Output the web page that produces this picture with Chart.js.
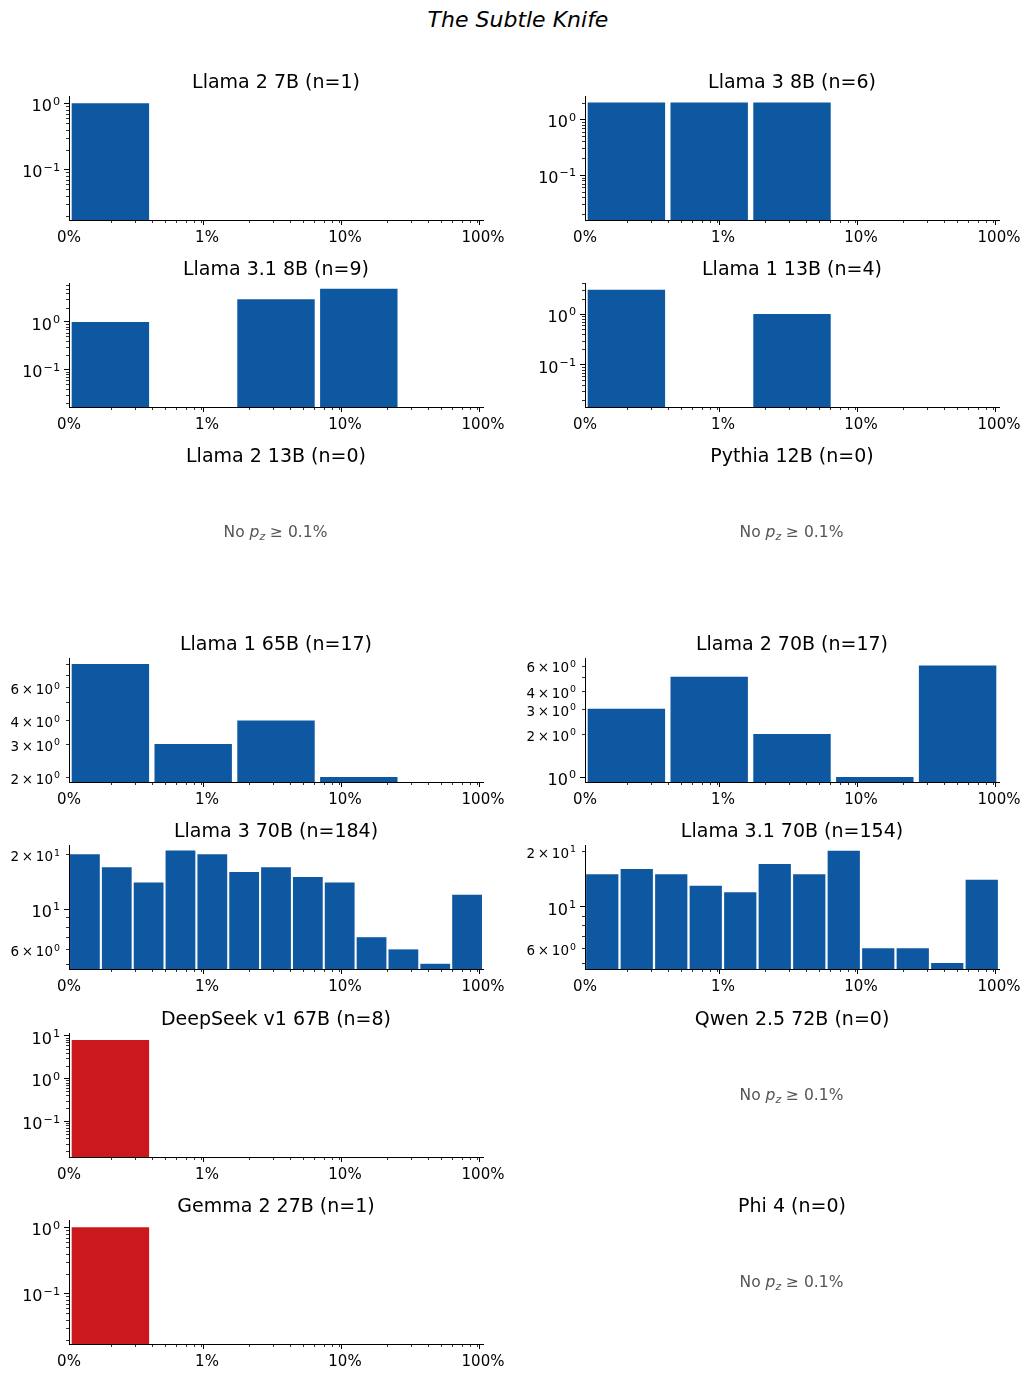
<!DOCTYPE html>
<html>
<head>
<meta charset="utf-8">
<script src="https://cdn.jsdelivr.net/npm/chart.js@4.4.0/dist/chart.umd.min.js"></script>
<style>
  body { margin: 0; background: #fff; }
  #page { position: relative; width: 1032px; height: 1378px; font-family: 'DejaVu Sans', sans-serif; overflow: hidden; }
  #page canvas { position: absolute; }
  #suptitle { position: absolute; left: 0; top: 7px; width: 1036px; text-align: center; font-size: 22px; line-height: 26px; font-style: italic; color: #000; }
  .empty { position: absolute; transform: translate(-50%, -50%); white-space: nowrap; font-size: 15.5px; color: #555; }
  .empty sub { font-size: 70%; font-style: italic; vertical-align: baseline; position: relative; top: 0.25em; }
</style>
</head>
<body>
<div id="page">
  <div id="suptitle">The Subtle Knife</div>
</div>
<script>
// panel names, row by row (2 columns)
const panelNames = ['Llama 2 7B', 'Llama 3 8B', 'Llama 3.1 8B', 'Llama 1 13B', 'Llama 2 13B', 'Pythia 12B',
  'Llama 1 65B', 'Llama 2 70B', 'Llama 3 70B', 'Llama 3.1 70B', 'DeepSeek v1 67B', 'Qwen 2.5 72B',
  'Gemma 2 27B', 'Phi 4'];

// counts per log-spaced bin between 0.1% and 100%
const llama2_7b = [1, 0, 0, 0, 0];
const llama3_8b = [2, 2, 2, 0, 0];
const llama31_8b = [1, 0, 3, 5, 0];
const llama1_13b = [3, 0, 1, 0, 0];
const llama1_65b = [8, 3, 4, 2, 0];
const llama2_70b = [3, 5, 2, 1, 6];
const llama3_70b = [20, 17, 14, 21, 20, 16, 17, 15, 14, 7, 6, 5, 12];
const llama31_70b = [15, 16, 15, 13, 12, 17, 15, 20, 6, 6, 5, 14];
const deepseek_67b = [8, 0, 0, 0, 0];
const gemma2_27b = [1, 0, 0, 0, 0];

const panelCounts = [llama2_7b, llama3_8b, llama31_8b, llama1_13b, null, null,
  llama1_65b, llama2_70b, llama3_70b, llama31_70b, deepseek_67b, null, gemma2_27b, null];

// y axis limits (log scale)
const yMins = [0.0172, 0.0156, 0.0165, 0.0147, null, null, 1.88, 0.923, 4.68, 4.65, 0.0145, null, 0.0172, null];
const yMaxs = [1.29, 2.62, 6.57, 4.09, null, null, 8.6, 6.77, 22.5, 21.5, 11.6, null, 1.29, null];

const redPanels = ['DeepSeek v1 67B', 'Gemma 2 27B'];
const xTickValues = [0.1, 1, 10, 100];
const xTickLabels = ['0%', '1%', '10%', '100%'];

const BLUE = '#0e58a2';
const RED = '#cb181d';
const FONT = "'DejaVu Sans', sans-serif";

Chart.defaults.font.family = FONT;
Chart.defaults.color = '#000';

function logTicks(min, max) {
  const out = [];
  for (let e = Math.floor(Math.log10(min)); e <= Math.ceil(Math.log10(max)); e++) {
    for (let m = 1; m <= 9; m++) {
      const v = m * Math.pow(10, e);
      if (v >= min * 0.9999 && v <= max * 1.0001) out.push({ value: v, major: m === 1, m: m, e: e });
    }
  }
  return out;
}

// short minor tick marks + y labels with real superscripts, like matplotlib
const logDecor = {
  id: 'logDecor',
  afterDraw(chart) {
    const ctx = chart.ctx;
    ctx.save();
    ctx.strokeStyle = '#000';
    ctx.lineWidth = 0.8;
    ctx.beginPath();
    ['xl', 'y'].forEach(id => {
      const s = chart.scales[id];
      if (!s || !s.options.display) return;
      s.ticks.forEach(t => {
        if (t.major) return;
        const p = Math.round(s.getPixelForValue(t.value)) + 0.5;
        if (s.isHorizontal()) { ctx.moveTo(p, s.top); ctx.lineTo(p, s.top + 3); }
        else { ctx.moveTo(s.right - 3, p); ctx.lineTo(s.right, p); }
      });
    });
    ctx.stroke();

    const s = chart.scales.y;
    if (s && s.options.display) {
      const numdec = Math.log10(s.max / s.min);
      ctx.fillStyle = '#000';
      ctx.textAlign = 'left';
      ctx.textBaseline = 'alphabetic';
      s.ticks.forEach(t => {
        let pre, size;
        if (t.major) { pre = '10'; size = 16; }
        else if (numdec <= 1 && [2, 3, 4, 6].includes(t.m)) { pre = t.m + '\u2009×\u200910'; size = 13.5; }
        else return;
        const exp = String(t.e).replace('-', '\u2212');
        const es = size * 0.7;
        ctx.font = size + 'px ' + FONT;
        const wPre = ctx.measureText(pre).width;
        ctx.font = es + 'px ' + FONT;
        const wExp = ctx.measureText(exp).width;
        const y = s.getPixelForValue(t.value);
        const x0 = s.right - 9 - wExp - 1 - wPre;
        const base = y + 0.36 * size + 2;
        ctx.font = size + 'px ' + FONT;
        ctx.fillText(pre, x0, base);
        ctx.font = es + 'px ' + FONT;
        ctx.fillText(exp, x0 + wPre + 1, base - 0.4 * size);
      });
    }
    ctx.restore();
  }
};

const page = document.getElementById('page');

panelNames.forEach((name, i) => {
  const col = i % 2, row = Math.floor(i / 2);
  const counts = panelCounts[i];
  const n = counts ? counts.reduce((a, b) => a + b, 0) : 0;
  const left = col * 516;
  const top = Math.round(55.5 + row * 187.4);

  const canvas = document.createElement('canvas');
  canvas.width = 513;
  canvas.height = 194;
  canvas.style.left = left + 'px';
  canvas.style.top = top + 'px';
  page.appendChild(canvas);

  const title = {
    display: true, text: name + ' (n=' + n + ')', fullSize: false, color: '#000',
    font: { size: 19, weight: 'normal' }, padding: { top: 16, bottom: 1.2 }
  };

  if (!counts) {
    new Chart(canvas, {
      type: 'bar',
      data: { labels: [], datasets: [] },
      options: {
        responsive: false, animation: false,
        layout: { padding: { left: 69, right: 30 } },
        plugins: { legend: { display: false }, tooltip: { enabled: false }, title: title },
        scales: { x: { display: false }, y: { display: false } }
      }
    });
    const msg = document.createElement('div');
    msg.className = 'empty';
    msg.innerHTML = 'No <i>p</i><sub>z</sub> ≥ 0.1%';
    msg.style.left = (left + 69 + 206.5) + 'px';
    msg.style.top = (top + 40 + 62) + 'px';
    page.appendChild(msg);
    return;
  }

  const yTicks = logTicks(yMins[i], yMaxs[i]);
  const xTicks = logTicks(xTickValues[0], xTickValues[xTickValues.length - 1]);

  new Chart(canvas, {
    type: 'bar',
    data: {
      labels: counts.map((c, k) => String(k)),
      datasets: [{
        data: counts,
        backgroundColor: redPanels.includes(name) ? RED : BLUE,
        borderWidth: 0,
        barPercentage: 0.935,
        categoryPercentage: 1,
        xAxisID: 'x',
        yAxisID: 'y'
      }]
    },
    options: {
      responsive: false, animation: false,
      layout: { padding: { right: 30 } },
      plugins: { legend: { display: false }, tooltip: { enabled: false }, title: title },
      scales: {
        x: { type: 'category', display: false, offset: true },
        xl: {
          type: 'logarithmic', position: 'bottom', min: 0.1, max: 100, bounds: 'data',
          afterBuildTicks: s => { s.ticks = xTicks; },
          afterFit: s => { s.height = 30; },
          grid: {
            drawOnChartArea: false, tickLength: 5, tickWidth: 1,
            tickColor: c => (c.tick && c.tick.major ? '#000' : 'rgba(0,0,0,0)')
          },
          border: { color: '#000', width: 1 },
          ticks: {
            autoSkip: false, maxRotation: 0, padding: 4, color: '#000', font: { size: 15 },
            callback: (v, k, ts) => {
              if (!ts[k].major) return '';
              const j = xTickValues.findIndex(x => Math.abs(x - ts[k].value) < 1e-9);
              return j >= 0 ? xTickLabels[j] : '';
            }
          }
        },
        y: {
          type: 'logarithmic', min: yMins[i], max: yMaxs[i], bounds: 'data',
          afterBuildTicks: s => { s.ticks = yTicks; },
          afterFit: s => { s.width = 69; },
          grid: {
            drawOnChartArea: false, tickLength: 5, tickWidth: 1,
            tickColor: c => (c.tick && c.tick.major ? '#000' : 'rgba(0,0,0,0)')
          },
          border: { color: '#000', width: 1 },
          ticks: { autoSkip: false, padding: 3, callback: () => '' }
        }
      }
    },
    plugins: [logDecor]
  });
});
</script>
</body>
</html>
